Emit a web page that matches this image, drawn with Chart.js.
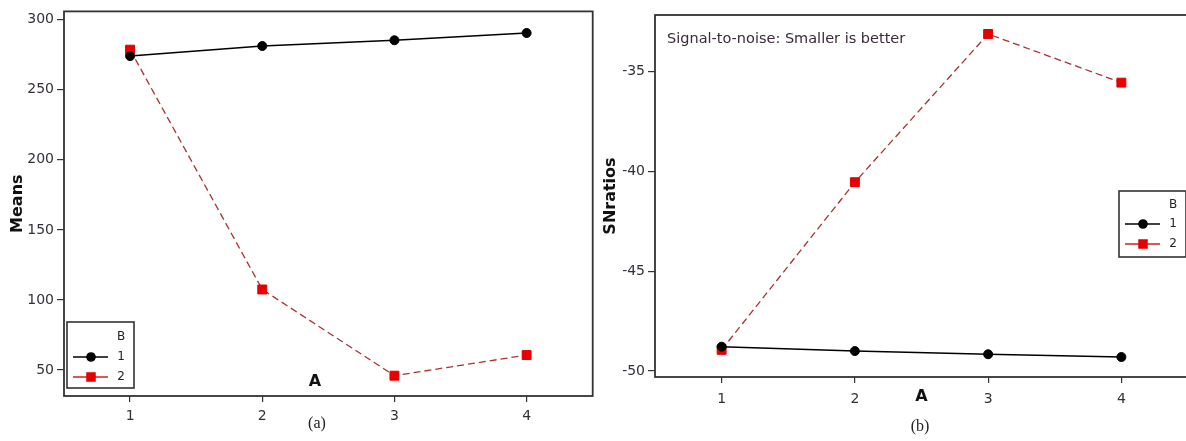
<!DOCTYPE html>
<html>
<head>
<meta charset="utf-8">
<script src="https://cdn.jsdelivr.net/npm/chart.js@4.4.1/dist/chart.umd.min.js"></script>
<style>
  html, body { margin: 0; padding: 0; background: #fff; overflow: hidden; width: 1186px; height: 441px; }
  .wrap { position: absolute; top: 0; }
  #w1 { left: 0; width: 600px; height: 441px; }
  #w2 { left: 596px; width: 600px; height: 441px; }
</style>
</head>
<body>
<div class="wrap" id="w1"><canvas id="c1" width="600" height="441"></canvas></div>
<div class="wrap" id="w2"><canvas id="c2" width="600" height="441"></canvas></div>
<script>
// ---- data ----
const categoriesA = ['1', '2', '3', '4'];
const legendTitle = 'B';
const seriesNames = ['1', '2'];
const meansB1 = [274, 281.2, 285.3, 290.5];
const meansB2 = [278.6, 107.5, 46, 60.7];
const snB1 = [-48.78, -49.0, -49.16, -49.3];
const snB2 = [-48.94, -40.54, -33.11, -35.55];
const meansTicks = [50, 100, 150, 200, 250, 300];
const snTicks = [-50, -45, -40, -35];

Chart.defaults.font.family = '"DejaVu Sans", sans-serif';
const INK = '#333';
const TICK_COLOR = '#352f3a';

// frame around plot area
const frame = {
  id: 'frame',
  afterDatasetsDraw(chart) {
    const {ctx, chartArea: a} = chart;
    ctx.save();
    ctx.strokeStyle = INK; ctx.lineWidth = 1.8;
    ctx.strokeRect(a.left, a.top, a.right - a.left, a.bottom - a.top);
    ctx.restore();
  }
};

// boxed legend built from the datasets
const boxLegend = {
  id: 'boxLegend',
  afterDraw(chart, args, o) {
    const ctx = chart.ctx;
    ctx.save();
    ctx.fillStyle = '#fff'; ctx.fillRect(o.x, o.y, o.w, o.h);
    ctx.strokeStyle = INK; ctx.lineWidth = 1.6; ctx.strokeRect(o.x, o.y, o.w, o.h);
    ctx.font = '12px "DejaVu Sans"'; ctx.textAlign = 'center'; ctx.textBaseline = 'middle';
    ctx.fillStyle = '#222';
    ctx.fillText(o.title, o.x + o.textX, o.y + o.titleY);
    chart.data.datasets.forEach((ds, i) => {
      const yy = o.y + o.itemY0 + i * o.itemGap;
      ctx.setLineDash([]);
      ctx.strokeStyle = ds.legendLine; ctx.lineWidth = 1.5;
      ctx.beginPath(); ctx.moveTo(o.x + o.lineX0, yy); ctx.lineTo(o.x + o.lineX1, yy); ctx.stroke();
      ctx.fillStyle = ds.pointBackgroundColor; ctx.strokeStyle = ds.pointBorderColor;
      Chart.helpers.drawPoint(ctx, {pointStyle: ds.pointStyle, radius: ds.pointRadius * 0.9, borderWidth: 1, rotation: 0}, o.x + o.markerX, yy);
      ctx.fillStyle = '#222';
      ctx.fillText(ds.label, o.x + o.textX, yy);
    });
    ctx.restore();
  }
};

// free text labels (captions, notes)
const textLabels = {
  id: 'textLabels',
  afterDraw(chart, args, o) {
    const ctx = chart.ctx;
    ctx.save();
    (o.items || []).forEach(t => {
      ctx.font = t.font; ctx.fillStyle = t.color; ctx.textAlign = t.align || 'center'; ctx.textBaseline = 'middle';
      ctx.fillText(t.text, t.x, t.y);
    });
    ctx.restore();
  }
};

function datasets(v1, v2) {
  return [
    { label: seriesNames[0], data: v1, borderColor: '#000', borderWidth: 1.5, legendLine: '#000',
      pointStyle: 'circle', pointRadius: 4.5, pointBackgroundColor: '#000', pointBorderColor: '#000', pointBorderWidth: 1 },
    { label: seriesNames[1], data: v2, borderColor: '#a83232', borderWidth: 1.3, borderDash: [7, 4], legendLine: '#d02020',
      pointStyle: 'rect', pointRadius: 6.3, pointBackgroundColor: '#e80000', pointBorderColor: '#e00000', pointBorderWidth: 1 }
  ];
}

function makeChart(id, v1, v2, cfg) {
  return new Chart(document.getElementById(id), {
    type: 'line',
    data: { labels: categoriesA, datasets: datasets(v1, v2) },
    plugins: [frame, boxLegend, textLabels],
    options: {
      responsive: false, animation: false, events: [],
      layout: { padding: cfg.padding },
      plugins: {
        legend: { display: false }, tooltip: { enabled: false },
        boxLegend: cfg.legend, textLabels: { items: cfg.texts }
      },
      scales: {
        x: {
          type: 'category', offset: true,
          grid: { display: true, drawOnChartArea: false, drawTicks: true, tickLength: 6, color: INK, lineWidth: 1.2, offset: false },
          border: { display: false },
          ticks: { color: TICK_COLOR, font: { size: 14 }, padding: cfg.xTickPad },
          title: cfg.xTitle,
          afterFit: s => { s.height = cfg.xHeight; }
        },
        y: {
          type: 'linear', min: cfg.yMin, max: cfg.yMax,
          grid: { display: true, drawOnChartArea: false, drawTicks: true, tickLength: 7, color: INK, lineWidth: 1.2 },
          border: { display: false },
          ticks: { color: TICK_COLOR, font: { size: 14 }, padding: 3 },
          afterBuildTicks: s => { s.ticks = cfg.yTicks.map(v => ({ value: v })); },
          title: { display: true, text: cfg.yTitle, color: '#111', font: { size: 16, weight: 'bold' }, padding: { top: cfg.yTitlePad, bottom: 0 } },
          afterFit: s => { s.width = cfg.yWidth; }
        }
      }
    }
  });
}

makeChart('c1', meansB1, meansB2, {
  padding: { top: 10, right: 6, bottom: 0, left: 0 },
  xHeight: 45, xTickPad: 6, yWidth: 64, yMin: 31.5, yMax: 305.9, yTicks: meansTicks,
  yTitle: 'Means', yTitlePad: 8,
  xTitle: { display: false },
  legend: { title: legendTitle, x: 67, y: 322, w: 67, h: 66, titleY: 15, itemY0: 35, itemGap: 20, lineX0: 6, lineX1: 41, markerX: 24, textX: 54 },
  texts: [
    { text: 'A', x: 315, y: 382, font: 'bold 16px "DejaVu Sans"', color: '#111' },
    { text: '(a)', x: 317, y: 424, font: '16px "Liberation Serif"', color: '#222' }
  ]
});

makeChart('c2', snB1, snB2, {
  padding: { top: 15, right: 8, bottom: 0, left: 0 },
  xHeight: 64, xTickPad: 8, yWidth: 59, yMin: -50.3, yMax: -32.16, yTicks: snTicks,
  yTitle: 'SNratios', yTitlePad: 5,
  xTitle: { display: true, text: 'A', color: '#111', font: { size: 16, weight: 'bold' }, padding: { top: 0, bottom: 35 } },
  legend: { title: legendTitle, x: 523, y: 191, w: 67, h: 66, titleY: 14, itemY0: 33, itemGap: 20, lineX0: 6, lineX1: 41, markerX: 24, textX: 54 },
  texts: [
    { text: 'Signal-to-noise: Smaller is better', x: 71, y: 39, font: '14.5px "DejaVu Sans"', color: '#3a2a3a', align: 'left' },
    { text: '(b)', x: 324, y: 427, font: '16px "Liberation Serif"', color: '#222' }
  ]
});
</script>
</body>
</html>
